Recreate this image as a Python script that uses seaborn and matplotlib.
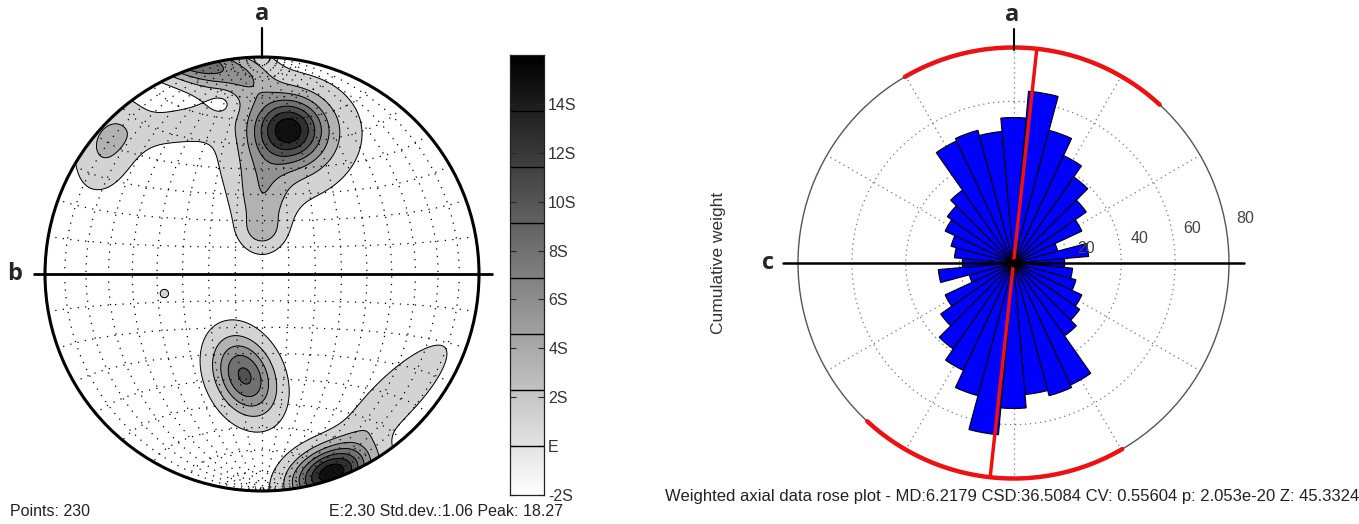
import numpy as np
import matplotlib
matplotlib.use("Agg")
import matplotlib.pyplot as plt
import seaborn as sns
from matplotlib.patches import Circle

sns.set_theme(style="white")
plt.rcParams['font.family'] = ['Liberation Sans', 'DejaVu Sans']

W, H = 1359, 524

# --- stereonet (contoured poles) ---
n_points = 230
E_val = 2.30
S_val = 1.06
peak_val = 18.27
cbar_ticks_s = [-2, 0, 2, 4, 6, 8, 10, 12, 14]
cbar_tick_labels = ["-2S", "E", "2S", "4S", "6S", "8S", "10S", "12S", "14S"]
cbar_top_s = 16
contour_levels = [2.30, 4.72, 7.15, 9.57, 11.99, 14.41, 16.84]
background = 1.0

# density clusters: centre, spread, rotation, height
blob_x = [0.12, 0.13, 0.00, 0.00, -0.40, -0.33, -0.05, -0.71, -0.08, 0.32, 0.60, -0.45, -0.175]
blob_y = [0.67, 0.60, 0.33, 0.20, 0.68, 0.99, 0.90, 0.60, -0.47, -0.92, -0.58, -0.09, 0.79]
blob_sx = [0.11, 0.20, 0.08, 0.06, 0.22, 0.20, 0.08, 0.09, 0.13, 0.13, 0.24, 0.03, 0.045]
blob_sy = [0.10, 0.16, 0.14, 0.05, 0.07, 0.07, 0.10, 0.15, 0.09, 0.08, 0.07, 0.03, 0.045]
blob_rot = [0, 20, 0, 0, 10, -18, 0, -20, -65, 20, 45, 0, 0]
blob_amp = [13.0, 5.0, 4.5, 2.5, 2.0, 11.0, 1.8, 3.8, 11.5, 17.0, 3.6, 1.6, -1.5]

# --- rose diagram (axial, 10 degree bins, mirrored) ---
rose_bin_centres = np.arange(0, 180, 10)
rose_weights = [54, 64, 51, 44, 39, 33, 28, 17, 28, 19, 22, 24, 28, 30, 33, 50, 51, 49]
rose_rmax = 80
rose_rings = [20, 40, 60, 80]
mean_dir = 6.2179
circ_sd = 36.5084
caption_rose = ("Weighted axial data rose plot - MD:6.2179 CSD:36.5084 "
                "CV: 0.55604 p: 2.053e-20 Z: 45.3324")


def px_axes(fig, x0, y0, x1, y1, **kw):
    # axes from pixel box (top-left origin)
    return fig.add_axes([x0 / W, 1 - y1 / H, (x1 - x0) / W, (y1 - y0) / H], **kw)


fig = plt.figure(figsize=(W / 100, H / 100), dpi=100)
fig.patch.set_facecolor("white")

# ---------------- left: stereonet ----------------
cx, cy, R = 262, 274, 217
ax = px_axes(fig, 0, 0, 500, H)
ax.set_xlim((0 - cx) / R, (500 - cx) / R)
ax.set_ylim((cy - H) / R, cy / R)
ax.axis("off")

gx, gy = np.meshgrid(np.linspace(-1.05, 1.05, 400), np.linspace(-1.05, 1.05, 400))
field = np.full_like(gx, background)
for bx, by, sx, sy, rot, amp in zip(blob_x, blob_y, blob_sx, blob_sy, blob_rot, blob_amp):
    t = np.deg2rad(rot)
    dx, dy = gx - bx, gy - by
    u = dx * np.cos(t) + dy * np.sin(t)
    v = -dx * np.sin(t) + dy * np.cos(t)
    field += amp * np.exp(-0.5 * ((u / sx) ** 2 + (v / sy) ** 2))

vmin = E_val - 2 * S_val
vmax = E_val + cbar_top_s * S_val
grey = sns.color_palette("gray_r", as_cmap=True)
bounds = [vmin] + contour_levels + [vmax + 5]
mids = [(a + min(b, vmax)) / 2 for a, b in zip(bounds[:-1], bounds[1:])]
band_colors = ["white"] + [grey((m - vmin) / (vmax - vmin)) for m in mids[1:]]

clip = Circle((0, 0), 1, transform=ax.transData, facecolor="none", edgecolor="none")
ax.add_patch(clip)
cf = ax.contourf(gx, gy, np.clip(field, vmin, None), levels=bounds, colors=band_colors)
cf.set_clip_path(clip)
cl = ax.contour(gx, gy, field, levels=contour_levels, colors="black", linewidths=0.7)
cl.set_clip_path(clip)

# equal-area net, 10 degree spacing, dotted
t = np.linspace(0, np.pi, 200)
for a in np.deg2rad(np.arange(10, 180, 10)):
    vx, vy, vz = np.sin(t) * np.cos(a), np.cos(t), np.sin(t) * np.sin(a)
    k = np.sqrt(1 / (1 + vz))
    ax.plot(vx * k, vy * k, color="black", lw=0.9, ls=(0, (1, 5)))
for a in np.deg2rad(np.arange(10, 180, 10)):
    vx, vy, vz = np.sin(a) * np.cos(t), np.cos(a) * np.ones_like(t), np.sin(a) * np.sin(t)
    k = np.sqrt(1 / (1 + vz))
    ax.plot(vx * k, vy * k, color="black", lw=0.9, ls=(0, (1, 5)))

ax.add_patch(Circle((0, 0), 1, facecolor="none", edgecolor="black", lw=2.2, zorder=5))
ax.plot([(33 - cx) / R, (493 - cx) / R], [0, 0], color="black", lw=2.0, zorder=6, solid_capstyle="butt")
ax.plot([0, 0], [1, (cy - 28) / R], color="black", lw=1.6, zorder=6)
ax.text(0, (cy - 14) / R, "a", ha="center", va="center", fontsize=17,
        fontweight="bold", family=["Open Sans", "DejaVu Sans"])
ax.text((15 - cx) / R, 0, "b", ha="center", va="center", fontsize=17,
        fontweight="bold", family=["Open Sans", "DejaVu Sans"])

# colour bar
cax = px_axes(fig, 510, 55, 544, 495)
grad = np.linspace(vmin, vmax, 256).reshape(-1, 1)
cax.imshow(grad, cmap=grey, vmin=vmin, vmax=vmax, aspect="auto", origin="lower",
           extent=[0, 1, vmin, vmax])
for lev in contour_levels:
    cax.axhline(lev, color="black", lw=1.0)
cax.set_xlim(0, 1)
cax.set_ylim(vmin, vmax)
cax.set_xticks([])
cax.yaxis.tick_right()
cax.set_yticks([E_val + s * S_val for s in cbar_ticks_s])
cax.set_yticklabels(cbar_tick_labels, fontsize=11.5, color="#333333")
cax.tick_params(axis="y", direction="in", length=4, width=0.8, left=True, right=True, pad=3)
for sp in cax.spines.values():
    sp.set_visible(True)
    sp.set_color("#222222")
    sp.set_linewidth(0.9)

fig.text(10 / W, 1 - 512 / H, f"Points: {n_points}", fontsize=11.5, color="#222222",
         ha="left", va="center")
fig.text(563 / W, 1 - 512 / H, f"E:{E_val:.2f} Std.dev.:{S_val:.2f} Peak: {peak_val:.2f}",
         fontsize=11.5, color="#222222", ha="right", va="center")

# ---------------- right: rose diagram ----------------
rcx, rcy, rR = 1013.5, 263, 215.5
pax = px_axes(fig, rcx - rR, rcy - rR, rcx + rR, rcy + rR, projection="polar")
pax.set_theta_zero_location("N")
pax.set_theta_direction(-1)
pax.set_ylim(0, rose_rmax)
pax.set_facecolor("white")

theta_all = np.deg2rad(np.concatenate([rose_bin_centres, rose_bin_centres + 180]))
w_all = np.concatenate([rose_weights, rose_weights])
pax.bar(theta_all, w_all, width=np.deg2rad(10), color="#0000ff", edgecolor="black",
        linewidth=0.8, zorder=3)

pax.set_thetagrids(np.arange(0, 360, 30), labels=[])
pax.set_rgrids(rose_rings[:-1], labels=[])
pax.grid(True, color="#777777", ls=(0, (1, 3)), lw=0.9)
pax.spines["polar"].set_color("#555555")
pax.spines["polar"].set_linewidth(1.0)
for rv in rose_rings:
    pax.text(np.deg2rad(79), rv + 7.5, str(rv), fontsize=11.5, color="#444444",
             ha="center", va="center", clip_on=False, zorder=6)

md = np.deg2rad(mean_dir)
pax.plot([md + np.pi, md + np.pi, md, md], [rose_rmax, 0, 0, rose_rmax],
         color="#ee1111", lw=2.5, zorder=5, clip_on=False)
arc = np.linspace(md - np.deg2rad(circ_sd), md + np.deg2rad(circ_sd), 100)
pax.plot(arc, np.full_like(arc, rose_rmax), color="#ee1111", lw=3.2, zorder=5, clip_on=False)
pax.plot(arc + np.pi, np.full_like(arc, rose_rmax), color="#ee1111", lw=3.2, zorder=5, clip_on=False)

ext = (rcx - 783) / rR * rose_rmax
pax.plot([np.pi / 2, np.pi / 2, 3 * np.pi / 2, 3 * np.pi / 2], [ext, 0, 0, ext],
         color="black", lw=1.8, zorder=6, clip_on=False)
pax.plot([0, 0], [(rcy - 50) / rR * rose_rmax, (rcy - 29) / rR * rose_rmax],
         color="black", lw=1.5, zorder=6, clip_on=False)
pax.plot([0], [0], "o", color="black", ms=5, zorder=7)

fig.text(1012 / W, 1 - 15 / H, "a", ha="center", va="center", fontsize=17,
         fontweight="bold", family=["Open Sans", "DejaVu Sans"])
fig.text(768 / W, 1 - 263 / H, "c", ha="center", va="center", fontsize=17,
         fontweight="bold", family=["Open Sans", "DejaVu Sans"])
fig.text(718 / W, 1 - 263 / H, "Cumulative weight", rotation=90, fontsize=12.5,
         color="#333333", ha="center", va="center")
fig.text(1012 / W, 1 - 497 / H, caption_rose, fontsize=12, color="#222222",
         ha="center", va="center")

fig.savefig("out.png", dpi=100, facecolor="white")
